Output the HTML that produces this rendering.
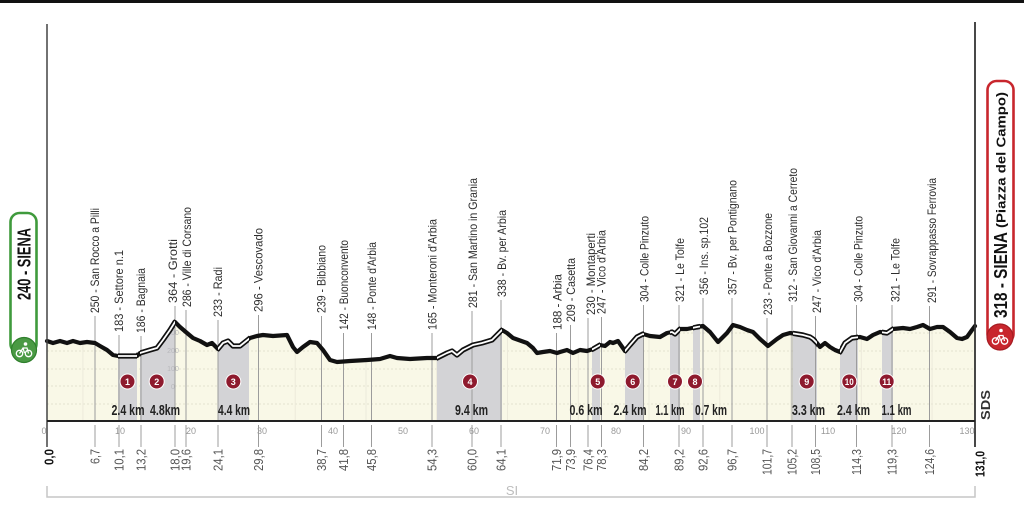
<!DOCTYPE html>
<html>
<head>
<meta charset="utf-8">
<style>
html,body{margin:0;padding:0;background:#fff;}
svg{display:block;}
text{font-family:"Liberation Sans Narrow","Liberation Sans",sans-serif;}
</style>
</head>
<body>
<svg width="1024" height="511" viewBox="0 0 1024 511" xmlns="http://www.w3.org/2000/svg">
<defs>
  <clipPath id="area">
    <polygon points="47,341 53,343 60,341 67,343 73,341 80,343 87,342 95,343 100,346 107,350 113,355 118,356 137,356 140,353 150,350 157,348 163,340 170,330 175,322 180,327 187,333 193,338 200,341 207,345 212,343 218,349 223,343 228,341 233,346 240,346 245,342 250,338 257,336 263,335 273,336 287,335 293,347 297,352 303,347 310,342 317,343 323,350 330,360 337,362 350,361 367,360 380,359 390,356 397,358 410,359 427,358 437,358 447,353 452,351 457,355 463,350 473,345 482,343 492,340 497,335 502,330 507,333 513,338 527,343 533,348 537,353 543,352 550,351 557,353 560,352 567,350 573,353 580,350 587,351 593,349 600,345 605,346 610,342 613,343 618,341 625,351 630,345 637,337 643,334 650,336 660,337 667,333 672,332 675,334 680,329 687,329 697,327 703,326 710,332 718,342 727,333 733,325 740,327 747,330 753,332 760,339 768,346 777,339 783,335 790,333 797,334 803,335 810,337 813,339 817,343 820,347 825,343 830,347 835,350 840,352 845,343 852,338 860,337 867,339 873,335 880,332 887,333 893,329 903,328 910,329 917,327 923,325 930,329 937,327 943,327 950,332 957,338 962,339 967,337 972,330 975,326 975,421 47,421"/>
  </clipPath>
  <clipPath id="sect">
    <rect x="118" y="300" width="19" height="80"/>
    <rect x="140" y="300" width="35" height="80"/>
    <rect x="218" y="300" width="31" height="80"/>
    <rect x="437" y="300" width="65" height="80"/>
    <rect x="592" y="300" width="8" height="80"/>
    <rect x="625" y="300" width="19" height="80"/>
    <rect x="670" y="300" width="10" height="80"/>
    <rect x="693" y="300" width="7" height="80"/>
    <rect x="793" y="300" width="24" height="80"/>
    <rect x="840" y="300" width="18" height="80"/>
    <rect x="882" y="300" width="11" height="80"/>
  </clipPath>
</defs>

<!-- top bar -->
<rect x="0" y="0" width="1024" height="3" fill="#111"/>

<!-- fill area -->
<rect x="47" y="300" width="928" height="121" fill="#f9f8e7" clip-path="url(#area)"/>
<g clip-path="url(#area)">
  <g stroke="#e4e2cf" stroke-width="1" stroke-dasharray="2,2">
    <line x1="47" y1="333" x2="975" y2="333"/>
    <line x1="47" y1="351" x2="975" y2="351"/>
    <line x1="47" y1="369" x2="975" y2="369"/>
    <line x1="47" y1="386" x2="975" y2="386"/>
    <line x1="47" y1="404" x2="975" y2="404"/>
  </g>
  <g stroke="#eceadb" stroke-width="1">
    <line x1="82.9" y1="300" x2="82.9" y2="421"/>
    <line x1="153.7" y1="300" x2="153.7" y2="421"/>
    <line x1="224.4" y1="300" x2="224.4" y2="421"/>
    <line x1="295.2" y1="300" x2="295.2" y2="421"/>
    <line x1="366" y1="300" x2="366" y2="421"/>
    <line x1="436.7" y1="300" x2="436.7" y2="421"/>
    <line x1="507.5" y1="300" x2="507.5" y2="421"/>
    <line x1="578.3" y1="300" x2="578.3" y2="421"/>
    <line x1="649" y1="300" x2="649" y2="421"/>
    <line x1="719.8" y1="300" x2="719.8" y2="421"/>
    <line x1="790.6" y1="300" x2="790.6" y2="421"/>
    <line x1="861.3" y1="300" x2="861.3" y2="421"/>
    <line x1="932.1" y1="300" x2="932.1" y2="421"/>
  </g>
  <!-- sector bands -->
  <g fill="#d3d3d6">
    <rect x="118" y="300" width="19" height="121"/>
    <rect x="140" y="300" width="35" height="121"/>
    <rect x="218" y="300" width="31" height="121"/>
    <rect x="437" y="300" width="65" height="121"/>
    <rect x="592" y="300" width="8" height="121"/>
    <rect x="625" y="300" width="19" height="121"/>
    <rect x="670" y="300" width="10" height="121"/>
    <rect x="693" y="300" width="7" height="121"/>
    <rect x="793" y="300" width="24" height="121"/>
    <rect x="840" y="300" width="18" height="121"/>
    <rect x="882" y="300" width="11" height="121"/>
  </g>
  <g fill="#b8b8bc" font-size="7" text-anchor="middle">
    <text x="173" y="335">300</text>
    <text x="173" y="353">200</text>
    <text x="173" y="371">100</text>
    <text x="173" y="389">0</text>
  </g>
</g>

<!-- landmark vertical lines -->
<g stroke="#9c9c9c" stroke-width="1">
  <line x1="95" y1="316" x2="95" y2="421"/><line x1="95" y1="425" x2="95" y2="447"/>
  <line x1="119" y1="335" x2="119" y2="421"/><line x1="119" y1="425" x2="119" y2="447"/>
  <line x1="141" y1="336" x2="141" y2="421"/><line x1="141" y1="425" x2="141" y2="447"/>
  <line x1="175" y1="306" x2="175" y2="421"/><line x1="175" y1="425" x2="175" y2="447"/>
  <line x1="186" y1="310" x2="186" y2="421"/><line x1="186" y1="425" x2="186" y2="447"/>
  <line x1="218" y1="320" x2="218" y2="421"/><line x1="218" y1="425" x2="218" y2="447"/>
  <line x1="258.5" y1="315" x2="258.5" y2="421"/><line x1="258.5" y1="425" x2="258.5" y2="447"/>
  <line x1="321.5" y1="316" x2="321.5" y2="421"/><line x1="321.5" y1="425" x2="321.5" y2="447"/>
  <line x1="343.5" y1="333" x2="343.5" y2="421"/><line x1="343.5" y1="425" x2="343.5" y2="447"/>
  <line x1="371.5" y1="333" x2="371.5" y2="421"/><line x1="371.5" y1="425" x2="371.5" y2="447"/>
  <line x1="432" y1="333" x2="432" y2="421"/><line x1="432" y1="425" x2="432" y2="447"/>
  <line x1="472" y1="311" x2="472" y2="421"/><line x1="472" y1="425" x2="472" y2="447"/>
  <line x1="501" y1="300" x2="501" y2="421"/><line x1="501" y1="425" x2="501" y2="447"/>
  <line x1="556.5" y1="333" x2="556.5" y2="421"/><line x1="556.5" y1="425" x2="556.5" y2="447"/>
  <line x1="570.5" y1="325" x2="570.5" y2="421"/><line x1="570.5" y1="425" x2="570.5" y2="447"/>
  <line x1="588" y1="318" x2="588" y2="421"/><line x1="588" y1="425" x2="588" y2="447"/>
  <line x1="601.5" y1="317" x2="601.5" y2="421"/><line x1="601.5" y1="425" x2="601.5" y2="447"/>
  <line x1="643.5" y1="305" x2="643.5" y2="421"/><line x1="643.5" y1="425" x2="643.5" y2="447"/>
  <line x1="679" y1="305" x2="679" y2="421"/><line x1="679" y1="425" x2="679" y2="447"/>
  <line x1="703" y1="298" x2="703" y2="421"/><line x1="703" y1="425" x2="703" y2="447"/>
  <line x1="732" y1="298" x2="732" y2="421"/><line x1="732" y1="425" x2="732" y2="447"/>
  <line x1="767" y1="318" x2="767" y2="421"/><line x1="767" y1="425" x2="767" y2="447"/>
  <line x1="792" y1="305" x2="792" y2="421"/><line x1="792" y1="425" x2="792" y2="447"/>
  <line x1="815.5" y1="316" x2="815.5" y2="421"/><line x1="815.5" y1="425" x2="815.5" y2="447"/>
  <line x1="856.5" y1="305" x2="856.5" y2="421"/><line x1="856.5" y1="425" x2="856.5" y2="447"/>
  <line x1="892" y1="305" x2="892" y2="421"/><line x1="892" y1="425" x2="892" y2="447"/>
  <line x1="929.5" y1="306" x2="929.5" y2="421"/><line x1="929.5" y1="425" x2="929.5" y2="447"/>
</g>

<!-- profile line -->
<polyline fill="none" stroke="#111" stroke-width="4.2" stroke-linejoin="round" stroke-linecap="round"
 points="47,341 53,343 60,341 67,343 73,341 80,343 87,342 95,343 100,346 107,350 113,355 118,356 137,356 140,353 150,350 157,348 163,340 170,330 175,322 180,327 187,333 193,338 200,341 207,345 212,343 218,349 223,343 228,341 233,346 240,346 245,342 250,338 257,336 263,335 273,336 287,335 293,347 297,352 303,347 310,342 317,343 323,350 330,360 337,362 350,361 367,360 380,359 390,356 397,358 410,359 427,358 437,358 447,353 452,351 457,355 463,350 473,345 482,343 492,340 497,335 502,330 507,333 513,338 527,343 533,348 537,353 543,352 550,351 557,353 560,352 567,350 573,353 580,350 587,351 593,349 600,345 605,346 610,342 613,343 618,341 625,351 630,345 637,337 643,334 650,336 660,337 667,333 672,332 675,334 680,329 687,329 697,327 703,326 710,332 718,342 727,333 733,325 740,327 747,330 753,332 760,339 768,346 777,339 783,335 790,333 797,334 803,335 810,337 813,339 817,343 820,347 825,343 830,347 835,350 840,352 845,343 852,338 860,337 867,339 873,335 880,332 887,333 893,329 903,328 910,329 917,327 923,325 930,329 937,327 943,327 950,332 957,338 962,339 967,337 972,330 975,326"/>
<g clip-path="url(#sect)">
<polyline fill="none" stroke="#111" stroke-width="5.2" stroke-linejoin="round"
 points="47,341 53,343 60,341 67,343 73,341 80,343 87,342 95,343 100,346 107,350 113,355 118,356 137,356 140,353 150,350 157,348 163,340 170,330 175,322 180,327 187,333 193,338 200,341 207,345 212,343 218,349 223,343 228,341 233,346 240,346 245,342 250,338 257,336 263,335 273,336 287,335 293,347 297,352 303,347 310,342 317,343 323,350 330,360 337,362 350,361 367,360 380,359 390,356 397,358 410,359 427,358 437,358 447,353 452,351 457,355 463,350 473,345 482,343 492,340 497,335 502,330 507,333 513,338 527,343 533,348 537,353 543,352 550,351 557,353 560,352 567,350 573,353 580,350 587,351 593,349 600,345 605,346 610,342 613,343 618,341 625,351 630,345 637,337 643,334 650,336 660,337 667,333 672,332 675,334 680,329 687,329 697,327 703,326 710,332 718,342 727,333 733,325 740,327 747,330 753,332 760,339 768,346 777,339 783,335 790,333 797,334 803,335 810,337 813,339 817,343 820,347 825,343 830,347 835,350 840,352 845,343 852,338 860,337 867,339 873,335 880,332 887,333 893,329 903,328 910,329 917,327 923,325 930,329 937,327 943,327 950,332 957,338 962,339 967,337 972,330 975,326"/>
<polyline fill="none" stroke="#fff" stroke-width="1.8" stroke-linejoin="round"
 points="47,341 53,343 60,341 67,343 73,341 80,343 87,342 95,343 100,346 107,350 113,355 118,356 137,356 140,353 150,350 157,348 163,340 170,330 175,322 180,327 187,333 193,338 200,341 207,345 212,343 218,349 223,343 228,341 233,346 240,346 245,342 250,338 257,336 263,335 273,336 287,335 293,347 297,352 303,347 310,342 317,343 323,350 330,360 337,362 350,361 367,360 380,359 390,356 397,358 410,359 427,358 437,358 447,353 452,351 457,355 463,350 473,345 482,343 492,340 497,335 502,330 507,333 513,338 527,343 533,348 537,353 543,352 550,351 557,353 560,352 567,350 573,353 580,350 587,351 593,349 600,345 605,346 610,342 613,343 618,341 625,351 630,345 637,337 643,334 650,336 660,337 667,333 672,332 675,334 680,329 687,329 697,327 703,326 710,332 718,342 727,333 733,325 740,327 747,330 753,332 760,339 768,346 777,339 783,335 790,333 797,334 803,335 810,337 813,339 817,343 820,347 825,343 830,347 835,350 840,352 845,343 852,338 860,337 867,339 873,335 880,332 887,333 893,329 903,328 910,329 917,327 923,325 930,329 937,327 943,327 950,332 957,338 962,339 967,337 972,330 975,326"/>
</g>

<!-- axes -->
<line x1="47" y1="24" x2="47" y2="447" stroke="#444" stroke-width="1.5"/>
<line x1="975" y1="22" x2="975" y2="447" stroke="#333" stroke-width="1.8"/>
<line x1="47" y1="421" x2="975" y2="421" stroke="#222" stroke-width="2"/>

<!-- km ticks labels -->
<g font-size="9" fill="#999" text-anchor="middle">
  <text x="44" y="434">0</text>
  <text x="120" y="434">10</text>
  <text x="191" y="434">20</text>
  <text x="262" y="434">30</text>
  <text x="333" y="434">40</text>
  <text x="403" y="434">50</text>
  <text x="474" y="434">60</text>
  <text x="545" y="434">70</text>
  <text x="616" y="434">80</text>
  <text x="686" y="434">90</text>
  <text x="757" y="434">100</text>
  <text x="828" y="434">110</text>
  <text x="899" y="434">120</text>
  <text x="967" y="434">130</text>
</g>

<!-- landmark labels (rotated) -->
<g font-size="12" fill="#2e2e2e">
  <text transform="translate(99,313) rotate(-90)" textLength="105" lengthAdjust="spacingAndGlyphs">250 - San Rocco a Pilli</text>
  <text transform="translate(123,332) rotate(-90)" textLength="82" lengthAdjust="spacingAndGlyphs">183 - Settore n.1</text>
  <text transform="translate(145,333) rotate(-90)" textLength="65" lengthAdjust="spacingAndGlyphs">186 - Bagnaia</text>
  <text transform="translate(177,303) rotate(-90)" textLength="64" lengthAdjust="spacingAndGlyphs">364 - Grotti</text>
  <text transform="translate(191,307) rotate(-90)" textLength="100" lengthAdjust="spacingAndGlyphs">286 - Ville di Corsano</text>
  <text transform="translate(222,317) rotate(-90)" textLength="50" lengthAdjust="spacingAndGlyphs">233 - Radi</text>
  <text transform="translate(262.5,312) rotate(-90)" textLength="84" lengthAdjust="spacingAndGlyphs">296 - Vescovado</text>
  <text transform="translate(325.5,313) rotate(-90)" textLength="68" lengthAdjust="spacingAndGlyphs">239 - Bibbiano</text>
  <text transform="translate(348,330) rotate(-90)" textLength="90" lengthAdjust="spacingAndGlyphs">142 - Buonconvento</text>
  <text transform="translate(376,330) rotate(-90)" textLength="88" lengthAdjust="spacingAndGlyphs">148 - Ponte d'Arbia</text>
  <text transform="translate(436.5,330) rotate(-90)" textLength="111" lengthAdjust="spacingAndGlyphs">165 - Monteroni d'Arbia</text>
  <text transform="translate(477,308) rotate(-90)" textLength="130" lengthAdjust="spacingAndGlyphs">281 - San Martino in Grania</text>
  <text transform="translate(506,297) rotate(-90)" textLength="87" lengthAdjust="spacingAndGlyphs">338 - Bv. per Arbia</text>
  <text transform="translate(561.5,330) rotate(-90)" textLength="56" lengthAdjust="spacingAndGlyphs">188 - Arbia</text>
  <text transform="translate(575,322) rotate(-90)" textLength="64" lengthAdjust="spacingAndGlyphs">209 - Casetta</text>
  <text transform="translate(595,315) rotate(-90)" textLength="82" lengthAdjust="spacingAndGlyphs">230 - Montaperti</text>
  <text transform="translate(605.5,314) rotate(-90)" textLength="84" lengthAdjust="spacingAndGlyphs">247 - Vico d'Arbia</text>
  <text transform="translate(648.5,302) rotate(-90)" textLength="86" lengthAdjust="spacingAndGlyphs">304 - Colle Pinzuto</text>
  <text transform="translate(684,302) rotate(-90)" textLength="64" lengthAdjust="spacingAndGlyphs">321 - Le Tolfe</text>
  <text transform="translate(708,295) rotate(-90)" textLength="78" lengthAdjust="spacingAndGlyphs">356 - Ins. sp.102</text>
  <text transform="translate(736.5,295) rotate(-90)" textLength="115" lengthAdjust="spacingAndGlyphs">357 - Bv. per Pontignano</text>
  <text transform="translate(772,315) rotate(-90)" textLength="102" lengthAdjust="spacingAndGlyphs">233 - Ponte a Bozzone</text>
  <text transform="translate(797,302) rotate(-90)" textLength="134" lengthAdjust="spacingAndGlyphs">312 - San Giovanni a Cerreto</text>
  <text transform="translate(821,313) rotate(-90)" textLength="83" lengthAdjust="spacingAndGlyphs">247 - Vico d'Arbia</text>
  <text transform="translate(862.5,302) rotate(-90)" textLength="86" lengthAdjust="spacingAndGlyphs">304 - Colle Pinzuto</text>
  <text transform="translate(899.5,302) rotate(-90)" textLength="64" lengthAdjust="spacingAndGlyphs">321 - Le Tolfe</text>
  <text transform="translate(936,303) rotate(-90)" textLength="125" lengthAdjust="spacingAndGlyphs">291 - Sovrappasso Ferrovia</text>
</g>

<!-- km numbers below axis -->
<g font-size="13" fill="#555" text-anchor="end">
  <text transform="translate(99.5,449) rotate(-90)" textLength="15" lengthAdjust="spacingAndGlyphs">6,7</text>
  <text transform="translate(123.5,449) rotate(-90)" textLength="22" lengthAdjust="spacingAndGlyphs">10,1</text>
  <text transform="translate(145.5,449) rotate(-90)" textLength="22" lengthAdjust="spacingAndGlyphs">13,2</text>
  <text transform="translate(179.5,449) rotate(-90)" textLength="22" lengthAdjust="spacingAndGlyphs">18,0</text>
  <text transform="translate(190.5,449) rotate(-90)" textLength="22" lengthAdjust="spacingAndGlyphs">19,6</text>
  <text transform="translate(222.5,449) rotate(-90)" textLength="22" lengthAdjust="spacingAndGlyphs">24,1</text>
  <text transform="translate(263,449) rotate(-90)" textLength="22" lengthAdjust="spacingAndGlyphs">29,8</text>
  <text transform="translate(326,449) rotate(-90)" textLength="22" lengthAdjust="spacingAndGlyphs">38,7</text>
  <text transform="translate(348,449) rotate(-90)" textLength="22" lengthAdjust="spacingAndGlyphs">41,8</text>
  <text transform="translate(376,449) rotate(-90)" textLength="22" lengthAdjust="spacingAndGlyphs">45,8</text>
  <text transform="translate(436.5,449) rotate(-90)" textLength="22" lengthAdjust="spacingAndGlyphs">54,3</text>
  <text transform="translate(476.5,449) rotate(-90)" textLength="22" lengthAdjust="spacingAndGlyphs">60,0</text>
  <text transform="translate(505.5,449) rotate(-90)" textLength="22" lengthAdjust="spacingAndGlyphs">64,1</text>
  <text transform="translate(561,449) rotate(-90)" textLength="22" lengthAdjust="spacingAndGlyphs">71,9</text>
  <text transform="translate(575,449) rotate(-90)" textLength="22" lengthAdjust="spacingAndGlyphs">73,9</text>
  <text transform="translate(592.5,449) rotate(-90)" textLength="22" lengthAdjust="spacingAndGlyphs">76,4</text>
  <text transform="translate(606,449) rotate(-90)" textLength="22" lengthAdjust="spacingAndGlyphs">78,3</text>
  <text transform="translate(648,449) rotate(-90)" textLength="22" lengthAdjust="spacingAndGlyphs">84,2</text>
  <text transform="translate(683.5,449) rotate(-90)" textLength="22" lengthAdjust="spacingAndGlyphs">89,2</text>
  <text transform="translate(707.5,449) rotate(-90)" textLength="22" lengthAdjust="spacingAndGlyphs">92,6</text>
  <text transform="translate(736.5,449) rotate(-90)" textLength="22" lengthAdjust="spacingAndGlyphs">96,7</text>
  <text transform="translate(771.5,449) rotate(-90)" textLength="26" lengthAdjust="spacingAndGlyphs">101,7</text>
  <text transform="translate(796.5,449) rotate(-90)" textLength="26" lengthAdjust="spacingAndGlyphs">105,2</text>
  <text transform="translate(820,449) rotate(-90)" textLength="26" lengthAdjust="spacingAndGlyphs">108,5</text>
  <text transform="translate(861,449) rotate(-90)" textLength="26" lengthAdjust="spacingAndGlyphs">114,3</text>
  <text transform="translate(896.5,449) rotate(-90)" textLength="26" lengthAdjust="spacingAndGlyphs">119,3</text>
  <text transform="translate(934,449) rotate(-90)" textLength="26" lengthAdjust="spacingAndGlyphs">124,6</text>
</g>
<g font-size="13" font-weight="bold" fill="#111" text-anchor="end">
  <text transform="translate(53.5,449) rotate(-90)" textLength="16" lengthAdjust="spacingAndGlyphs">0,0</text>
  <text transform="translate(984.5,451) rotate(-90)" textLength="26" lengthAdjust="spacingAndGlyphs">131,0</text>
</g>

<!-- sector badges -->
<g fill="#8e1a2e" stroke="#fff" stroke-width="1">
  <circle cx="127.5" cy="381.5" r="7.5"/>
  <circle cx="156.7" cy="381.5" r="7.5"/>
  <circle cx="233.3" cy="381.5" r="7.5"/>
  <circle cx="470" cy="381.5" r="7.5"/>
  <circle cx="597.7" cy="381.5" r="7.5"/>
  <circle cx="632.7" cy="381.5" r="7.5"/>
  <circle cx="675" cy="381.5" r="7.5"/>
  <circle cx="695" cy="381.5" r="7.5"/>
  <circle cx="806.7" cy="381.5" r="7.5"/>
  <circle cx="849.3" cy="381.5" r="7.5"/>
  <circle cx="886.7" cy="381.5" r="7.5"/>
</g>
<g font-size="9" font-weight="bold" fill="#fff" text-anchor="middle">
  <text x="127.5" y="384.8">1</text>
  <text x="156.7" y="384.8">2</text>
  <text x="233.3" y="384.8">3</text>
  <text x="470" y="384.8">4</text>
  <text x="597.7" y="384.8">5</text>
  <text x="632.7" y="384.8">6</text>
  <text x="675" y="384.8">7</text>
  <text x="695" y="384.8">8</text>
  <text x="806.7" y="384.8">9</text>
  <text x="849.3" y="384.8" textLength="9" lengthAdjust="spacingAndGlyphs">10</text>
  <text x="886.7" y="384.8" textLength="9" lengthAdjust="spacingAndGlyphs">11</text>
</g>

<!-- sector lengths -->
<g font-size="15" font-weight="bold" fill="#222" text-anchor="middle">
  <text x="128" y="415" textLength="33" lengthAdjust="spacingAndGlyphs">2.4 km</text>
  <text x="165" y="415" textLength="30" lengthAdjust="spacingAndGlyphs">4.8km</text>
  <text x="234" y="415" textLength="32" lengthAdjust="spacingAndGlyphs">4.4 km</text>
  <text x="471.5" y="415" textLength="33" lengthAdjust="spacingAndGlyphs">9.4 km</text>
  <text x="586" y="415" textLength="33" lengthAdjust="spacingAndGlyphs">0.6 km</text>
  <text x="630" y="415" textLength="33" lengthAdjust="spacingAndGlyphs">2.4 km</text>
  <text x="670" y="415" textLength="29" lengthAdjust="spacingAndGlyphs">1.1 km</text>
  <text x="711" y="415" textLength="32" lengthAdjust="spacingAndGlyphs">0.7 km</text>
  <text x="808.5" y="415" textLength="33" lengthAdjust="spacingAndGlyphs">3.3 km</text>
  <text x="853.5" y="415" textLength="33" lengthAdjust="spacingAndGlyphs">2.4 km</text>
  <text x="896.5" y="415" textLength="30" lengthAdjust="spacingAndGlyphs">1.1 km</text>
</g>

<!-- SDS -->
<text transform="translate(990,420) rotate(-90)" font-size="13" font-weight="bold" fill="#333" textLength="30" lengthAdjust="spacingAndGlyphs">SDS</text>

<!-- bracket -->
<g stroke="#c6c6c6" stroke-width="1.5" fill="none">
  <polyline points="47,486 47,497 975,497 975,486"/>
</g>
<text x="512" y="495" font-size="13" fill="#bdbdbd" text-anchor="middle">SI</text>

<!-- start badge -->
<rect x="10.5" y="213" width="26" height="140" rx="9" fill="#fff" stroke="#3f9a3c" stroke-width="2.6"/>
<text transform="translate(30.5,300) rotate(-90)" font-size="18" font-weight="bold" fill="#111" textLength="72" lengthAdjust="spacingAndGlyphs">240 - SIENA</text>
<circle cx="24" cy="350" r="12.5" fill="#4a9a44" stroke="#2f7f2c" stroke-width="1.2"/>
<g stroke="#fff" stroke-width="1.3" fill="none">
  <circle cx="19.5" cy="353.5" r="3.2"/>
  <circle cx="28.5" cy="353.5" r="3.2"/>
  <path d="M19.5,353.5 L23,348 L27,348 L28.5,353.5 M23,348 L24.5,353"/>
</g>
<circle cx="25.5" cy="344" r="1.8" fill="#fff"/>

<!-- finish badge -->
<rect x="987.5" y="81" width="26" height="262" rx="9" fill="#fff" stroke="#c8262d" stroke-width="2.6"/>
<text transform="translate(1007,318) rotate(-90)" font-size="18" font-weight="bold" fill="#111" textLength="86" lengthAdjust="spacingAndGlyphs">318 - SIENA</text>
<text transform="translate(1005.5,228) rotate(-90)" font-size="13" font-weight="bold" fill="#111" textLength="136" lengthAdjust="spacingAndGlyphs">(Piazza del Campo)</text>
<circle cx="1000" cy="337" r="13" fill="#c8262d" stroke="#a51c22" stroke-width="1.2"/>
<g stroke="#fff" stroke-width="1.3" fill="none">
  <circle cx="995.5" cy="341" r="3.2"/>
  <circle cx="1004.5" cy="341" r="3.2"/>
  <path d="M995.5,341 L999,335.5 L1003,335.5 L1004.5,341 M999,335.5 L1000.5,340.5"/>
</g>
<circle cx="1001" cy="330.5" r="1.8" fill="#fff"/>
</svg>
</body>
</html>
